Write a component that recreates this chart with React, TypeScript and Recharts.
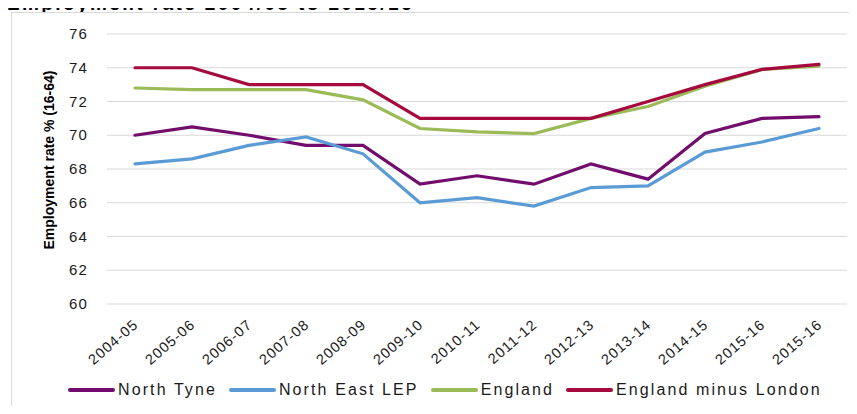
import { LineChart, Line, XAxis, YAxis, CartesianGrid, Legend, Label } from 'recharts';

const periods = ['2004-05', '2005-06', '2006-07', '2007-08', '2008-09', '2009-10', '2010-11', '2011-12', '2012-13', '2013-14', '2014-15', '2015-16', '2015-16'];
const northTyne = [70.0, 70.5, 70.0, 69.4, 69.4, 67.1, 67.6, 67.1, 68.3, 67.4, 70.1, 71.0, 71.1];
const northEastLep = [68.3, 68.6, 69.4, 69.9, 68.9, 66.0, 66.3, 65.8, 66.9, 67.0, 69.0, 69.6, 70.4];
const england = [72.8, 72.7, 72.7, 72.7, 72.1, 70.4, 70.2, 70.1, 71.0, 71.7, 72.9, 73.9, 74.1];
const englandMinusLondon = [74.0, 74.0, 73.0, 73.0, 73.0, 71.0, 71.0, 71.0, 71.0, 72.0, 73.0, 73.9, 74.2];
const yTicks = [60, 62, 64, 66, 68, 70, 72, 74, 76];

const SERIES = [
  { key: 'northTyne', name: 'North Tyne', color: '#720c6d' },
  { key: 'northEastLep', name: 'North East LEP', color: '#5b9bd5' },
  { key: 'england', name: 'England', color: '#9bbb59' },
  { key: 'englandMinusLondon', name: 'England minus London', color: '#a6093d' },
];

const data = periods.map((p, i) => ({
  period: p,
  northTyne: northTyne[i],
  northEastLep: northEastLep[i],
  england: england[i],
  englandMinusLondon: englandMinusLondon[i],
}));

const FONT = '"Liberation Sans", Arial, sans-serif';

const XTick = ({ x, y, payload }: any) => (
  <text x={x + 4} y={y + 14} transform={`rotate(-41, ${x + 4}, ${y + 14})`} textAnchor="end"
    fontFamily={FONT} fontSize={14.5} letterSpacing={1} fill="#1a1a1a">
    {payload.value}
  </text>
);

const YTick = ({ y, payload }: any) => (
  <text x={88} y={y} dy={5} textAnchor="end" fontFamily={FONT} fontSize={15} letterSpacing={1.2} fill="#1a1a1a">
    {payload.value}
  </text>
);

const YLabel = () => (
  <text x={54} y={160} transform="rotate(-90, 54, 160)" textAnchor="middle"
    fontFamily={FONT} fontSize={14} fontWeight="bold" fill="#000">
    Employment rate % (16-64)
  </text>
);

const LegendContent = () => (
  <div style={{ height: 52, display: 'flex', alignItems: 'center', paddingLeft: 68, paddingTop: 4, boxSizing: 'border-box', fontFamily: FONT, fontSize: 16, letterSpacing: 2.1, color: '#1a1a1a' }}>
    {SERIES.map(s => (
      <div key={s.key} style={{ display: 'flex', alignItems: 'center', marginRight: 12 }}>
        <span style={{ display: 'inline-block', width: 47, height: 4, borderRadius: 2, background: s.color, marginRight: 3 }} />
        <span>{s.name}</span>
      </div>
    ))}
  </div>
);

export default function App() {
  return (
    <div style={{ position: 'relative', margin: -8, width: 857, height: 414, overflow: 'hidden', background: '#fff' }}>
      <div style={{ position: 'absolute', left: 7, top: -7, lineHeight: '22px', fontFamily: FONT, fontSize: 19, fontWeight: 'bold', letterSpacing: 2.4, whiteSpace: 'nowrap', color: '#000', zIndex: 2 }}>
        Employment rate 2004/05 to 2015/16
      </div>
      <div style={{ position: 'absolute', left: 11, top: 12, width: 900, height: 450, border: '1px solid #d9d9d9', background: '#fff', zIndex: 3 }} />
      <div style={{ position: 'absolute', left: 0, top: 0, zIndex: 4 }}>
        <LineChart width={857} height={414} data={data} margin={{ top: 34, right: 10, bottom: 0, left: 0 }}>
          <CartesianGrid vertical={false} stroke="#d9d9d9" strokeWidth={1} />
          <XAxis dataKey="period" axisLine={false} tickLine={false} interval={0} height={58}
            padding={{ left: 28, right: 28 }} tick={<XTick />} />
          <YAxis domain={[60, 76]} ticks={yTicks} width={107} axisLine={false} tickLine={false} tick={<YTick />}>
            <Label content={<YLabel />} />
          </YAxis>
          <Legend verticalAlign="bottom" content={<LegendContent />} />
          {SERIES.map(s => (
            <Line key={s.key} type="linear" dataKey={s.key} name={s.name} stroke={s.color} strokeWidth={3.2}
              strokeLinecap="round" dot={false} activeDot={false} isAnimationActive={false} />
          ))}
        </LineChart>
      </div>
    </div>
  );
}
